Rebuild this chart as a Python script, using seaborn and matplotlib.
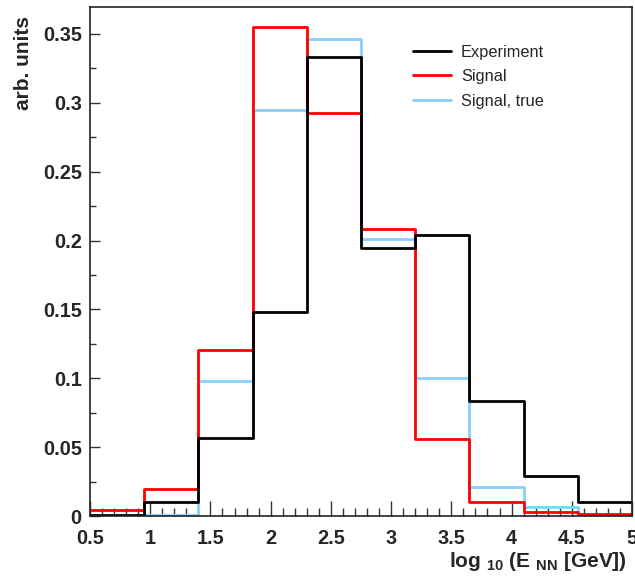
import numpy as np
import pandas as pd
import matplotlib
matplotlib.use("Agg")
import matplotlib.pyplot as plt
from matplotlib.lines import Line2D
from matplotlib.ticker import MultipleLocator
import seaborn as sns

# Binning in log10(E_NN / GeV)
bin_edges = [0.5, 0.95, 1.4, 1.85, 2.3, 2.75, 3.2, 3.65, 4.1, 4.55, 5.0]

# Normalised bin contents
experiment = [0.001, 0.0104, 0.0564, 0.148, 0.3331, 0.1949, 0.2041, 0.0838, 0.029, 0.0102]
signal = [0.0044, 0.0194, 0.1203, 0.3554, 0.2929, 0.2084, 0.056, 0.0099, 0.0031, 0.0012]
signal_true = [0.0, 0.0005, 0.0983, 0.2949, 0.3462, 0.2012, 0.1002, 0.021, 0.0063, 0.001]

series_names = ["Experiment", "Signal", "Signal, true"]
series_colors = ["#000000", "#ff0000", "#87cefa"]

x_ticks = [0.5, 1, 1.5, 2, 2.5, 3, 3.5, 4, 4.5, 5]
x_tick_labels = ["0.5", "1", "1.5", "2", "2.5", "3", "3.5", "4", "4.5", "5"]
y_ticks = [0, 0.05, 0.1, 0.15, 0.2, 0.25, 0.3, 0.35]
y_tick_labels = ["0", "0.05", "0.1", "0.15", "0.2", "0.25", "0.3", "0.35"]

sns.set_theme(style="white")
plt.rcParams["font.family"] = ["Liberation Sans", "DejaVu Sans"]
plt.rcParams["mathtext.fontset"] = "custom"
plt.rcParams["mathtext.bf"] = "Liberation Sans:bold"
plt.rcParams["mathtext.rm"] = "Liberation Sans:bold"
plt.rcParams["mathtext.default"] = "bf"

centers = [0.5 * (a + b) for a, b in zip(bin_edges[:-1], bin_edges[1:])]

fig = plt.figure(figsize=(6.35, 5.77), dpi=100)
ax = fig.add_axes([90 / 635, 1 - 516 / 577, 542 / 635, 509 / 577])

# Draw back to front so the experiment outline sits on top
for name, values, color in reversed(list(zip(series_names,
                                             [experiment, signal, signal_true],
                                             series_colors))):
    df = pd.DataFrame({"x": centers, "w": values})
    sns.histplot(data=df, x="x", weights="w", bins=list(bin_edges), element="step",
                 fill=False, color=color, linewidth=2.0, ax=ax)

ax.set_xlim(0.5, 5.0)
ax.set_ylim(0, 0.3696)

ax.set_xticks(x_ticks)
ax.set_xticklabels(x_tick_labels)
ax.set_yticks(y_ticks)
ax.set_yticklabels(y_tick_labels)
ax.xaxis.set_minor_locator(MultipleLocator(0.1))
ax.yaxis.set_minor_locator(MultipleLocator(0.025))

ax.tick_params(axis="x", which="major", direction="in", length=11, width=1,
               color="#333333", labelsize=14.3, pad=9)
ax.tick_params(axis="x", which="minor", direction="in", length=5.8, width=1,
               color="#333333")
ax.tick_params(axis="y", which="major", direction="in", length=7.2, width=1,
               color="#333333", labelsize=14.3, pad=6)
ax.tick_params(axis="y", which="minor", direction="in", length=4.5, width=1,
               color="#333333")
ax.tick_params(bottom=True, left=True, which="both")
for lab in ax.get_xticklabels() + ax.get_yticklabels():
    lab.set_fontweight("bold")

for side in ["left", "bottom", "top", "right"]:
    ax.spines[side].set_visible(True)
    ax.spines[side].set_color("#222222")
    ax.spines[side].set_linewidth(1.2)

ax.set_ylabel("arb. units", fontsize=15, fontweight="bold", loc="top")
ax.yaxis.set_label_coords(-0.105, 0.982)
ax.set_xlabel(r"log $_{10}$ (E $_{NN}$ [GeV])", fontsize=15, fontweight="bold",
              loc="right")
ax.xaxis.set_label_coords(0.99, -0.066)

handles = [Line2D([], [], color=c, linewidth=2) for c in series_colors]
ax.legend(handles, series_names, loc="upper left",
          bbox_to_anchor=(406 / 635, 1 - 38 / 577), bbox_transform=fig.transFigure,
          frameon=False, fontsize=11.8, handlelength=2.35, handletextpad=0.6,
          labelspacing=0.58, borderaxespad=0)

fig.savefig("out.png", dpi=100)
